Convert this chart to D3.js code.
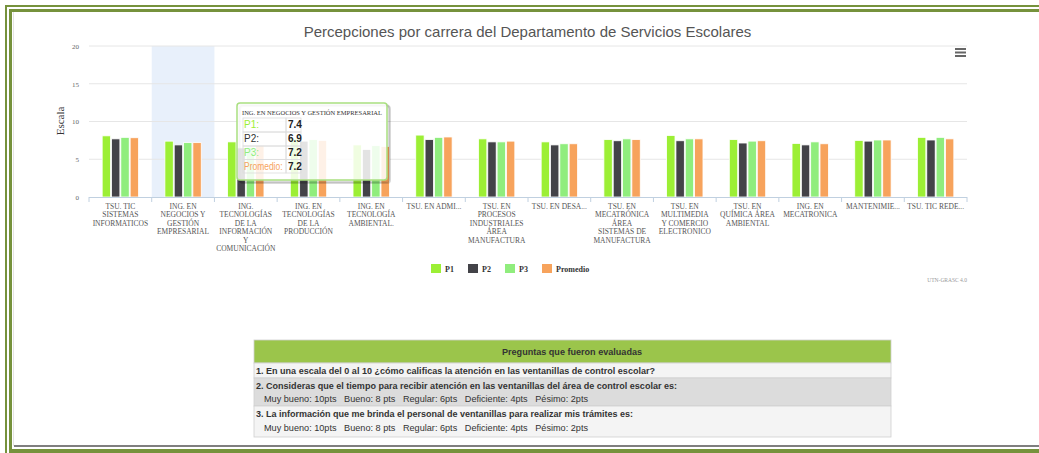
<!DOCTYPE html>
<html lang="es">
<head>
<meta charset="utf-8">
<title>Percepciones por carrera</title>
<script src="https://cdn.jsdelivr.net/npm/d3@7"></script>
<style>
body { margin: 0; background: #fff; }
svg { display: block; }
.ytick text { font: 7px "Liberation Serif", serif; fill: #666; }
.xlab { font: 7.5px "Liberation Serif", serif; fill: #555; }
.tabla text { font-family: "Liberation Sans", Arial, sans-serif; font-size: 9px; fill: #333; white-space: pre; }
</style>
</head>
<body>
<svg width="1039" height="453"></svg>
<script>
// categorias (lineas tal como se ven en el eje)
var carreras = [
  ["TSU. TIC", "SISTEMAS", "INFORMATICOS"],
  ["ING. EN", "NEGOCIOS Y", "GESTIÓN", "EMPRESARIAL"],
  ["ING.", "TECNOLOGÍAS", "DE LA", "INFORMACIÓN", "Y", "COMUNICACIÓN"],
  ["ING. EN", "TECNOLOGÍAS", "DE LA", "PRODUCCIÓN"],
  ["ING. EN", "TECNOLOGÍA", "AMBIENTAL."],
  ["TSU. EN ADMI..."],
  ["TSU. EN", "PROCESOS", "INDUSTRIALES", "ÁREA", "MANUFACTURA"],
  ["TSU. EN DESA..."],
  ["TSU. EN", "MECATRÓNICA", "ÁREA", "SISTEMAS DE", "MANUFACTURA"],
  ["TSU. EN", "MULTIMEDIA", "Y COMERCIO", "ELECTRONICO"],
  ["TSU. EN", "QUÍMICA ÁREA", "AMBIENTAL"],
  ["ING. EN", "MECATRONICA"],
  ["MANTENIMIE..."],
  ["TSU. TIC REDE..."]
];
var p1       = [8.1, 7.4, 7.3, 7.7, 6.9, 8.2, 7.7, 7.3, 7.6, 8.15, 7.6, 7.1, 7.5, 7.9];
var p2       = [7.7, 6.9, 6.5, 7.4, 6.3, 7.6, 7.3, 6.9, 7.45, 7.45, 7.15, 6.9, 7.4, 7.55];
var p3       = [7.9, 7.2, 6.6, 7.6, 6.8, 7.9, 7.3, 7.05, 7.7, 7.7, 7.4, 7.3, 7.55, 7.9];
var promedio = [7.85, 7.2, 6.8, 7.5, 6.7, 7.95, 7.4, 7.05, 7.6, 7.7, 7.45, 7.05, 7.55, 7.7];
var series = ["P1", "P2", "P3", "Promedio"];
var colores = ["#9cef35", "#434348", "#90ed7d", "#f7a35c"];
var yTicks = [0, 5, 10, 15, 20];
var titulo = "Percepciones por carrera del Departamento de Servicios Escolares";
var tooltipCarrera = 1;
var tooltipTitulo = "ING. EN NEGOCIOS Y GESTIÓN EMPRESARIAL";

var preguntasTitulo = "Preguntas que fueron evaluadas";
var preguntas = [
  "1. En una escala del 0 al 10 ¿cómo calificas la atención en las ventanillas de control escolar?",
  "2. Consideras que el tiempo para recibir atención en las ventanillas del área de control escolar es:",
  "3. La información que me brinda el personal de ventanillas para realizar mis trámites es:"
];
var opciones = "Muy bueno: 10pts   Bueno: 8 pts   Regular: 6pts   Deficiente: 4pts   Pésimo: 2pts";

var valores = [p1, p2, p3, promedio];
var svg = d3.select("svg");

// marco verde de la pagina
var verde = "#76923c";
svg.append("rect").attr("x", 5).attr("y", 5).attr("width", 1034).attr("height", 2).attr("fill", verde);
svg.append("rect").attr("x", 9).attr("y", 9).attr("width", 1030).attr("height", 3).attr("fill", verde);
svg.append("rect").attr("x", 5).attr("y", 5).attr("width", 2).attr("height", 448).attr("fill", verde);
svg.append("rect").attr("x", 9).attr("y", 9).attr("width", 3).attr("height", 444).attr("fill", verde);
svg.append("rect").attr("x", 9).attr("y", 449).attr("width", 1030).attr("height", 4).attr("fill", verde);
svg.append("line").attr("x1", 14).attr("x2", 1039).attr("y1", 446).attr("y2", 446)
    .attr("stroke", "#555").attr("stroke-width", 1.5);
svg.append("line").attr("x1", 13.5).attr("x2", 13.5).attr("y1", 12).attr("y2", 446)
    .attr("stroke", "#e4e4e4");

var x0 = d3.scaleBand().domain(d3.range(carreras.length)).range([89, 967]);
var bw = x0.bandwidth();
var x1 = d3.scaleBand().domain(series).range([bw * 0.21, bw * 0.79]).paddingInner(0.1);
var y = d3.scaleLinear().domain([0, 20]).range([197, 46]);

// titulo
svg.append("text").attr("x", 527.5).attr("y", 37).attr("text-anchor", "middle")
    .style("font", "15px 'Liberation Sans', Arial, sans-serif").attr("fill", "#555").text(titulo);

// menu
[49, 52.5, 56].forEach(function(v) {
  svg.append("line").attr("x1", 955).attr("x2", 966).attr("y1", v).attr("y2", v)
      .attr("stroke", "#666").attr("stroke-width", 2);
});

// banda de la categoria seleccionada
svg.append("rect").attr("x", x0(tooltipCarrera)).attr("y", y(20))
    .attr("width", bw).attr("height", y(0) - y(20)).attr("fill", "#e8f0fb");

// rejilla
svg.append("g").selectAll("line").data(yTicks.slice(1)).enter().append("line")
    .attr("x1", 89).attr("x2", 967)
    .attr("y1", function(d) { return y(d); }).attr("y2", function(d) { return y(d); })
    .attr("stroke", "#e6e6e6");

// eje y
var gy = svg.append("g").attr("class", "ytick").attr("transform", "translate(79,0)")
    .call(d3.axisLeft(y).tickValues(yTicks).tickSize(0).tickPadding(0));
gy.select(".domain").remove();
gy.selectAll("text").attr("dy", "0.35em");

svg.append("text").attr("transform", "translate(64,121) rotate(-90)").attr("text-anchor", "middle")
    .style("font", "11px 'Liberation Serif', serif").attr("fill", "#333").text("Escala");

// barras
var grupos = svg.append("g").selectAll("g").data(carreras).enter().append("g")
    .attr("transform", function(d, i) { return "translate(" + x0(i) + ",0)"; });
grupos.selectAll("rect").data(function(d, i) {
    return series.map(function(s, k) { return {s: s, k: k, v: valores[k][i]}; });
  }).enter().append("rect")
    .attr("x", function(d) { return x1(d.s); })
    .attr("width", x1.bandwidth())
    .attr("y", function(d) { return y(d.v); })
    .attr("height", function(d) { return y(0) - y(d.v); })
    .attr("fill", function(d) { return colores[d.k]; })
    .attr("stroke", "#fff").attr("stroke-width", 0.8);

// eje x
svg.append("line").attr("x1", 89).attr("x2", 967).attr("y1", 197.5).attr("y2", 197.5)
    .attr("stroke", "#c0d0e0");
svg.append("g").selectAll("line").data(d3.range(carreras.length + 1)).enter().append("line")
    .attr("x1", function(i) { return 89 + i * bw; }).attr("x2", function(i) { return 89 + i * bw; })
    .attr("y1", 197).attr("y2", 202).attr("stroke", "#c0d0e0");

var etiquetas = svg.append("g").selectAll("text").data(carreras).enter().append("text")
    .attr("class", "xlab").attr("text-anchor", "middle")
    .attr("x", function(d, i) { return x0(i) + bw / 2; }).attr("y", 209);
etiquetas.selectAll("tspan").data(function(d) { return d; }).enter().append("tspan")
    .attr("x", function() { return this.parentNode.getAttribute("x"); })
    .attr("dy", function(d, j) { return j ? 8.4 : 0; })
    .text(function(d) { return d; });

// leyenda
var leg = [431, 468, 505, 542];
series.forEach(function(s, k) {
  svg.append("rect").attr("x", leg[k]).attr("y", 264).attr("width", 10).attr("height", 9)
      .attr("fill", colores[k]);
  svg.append("text").attr("x", leg[k] + 14).attr("y", 271.5)
      .style("font", "bold 8px 'Liberation Serif', serif").attr("fill", "#333").text(s);
});
svg.append("text").attr("x", 967).attr("y", 282).attr("text-anchor", "end")
    .style("font", "5.5px 'Liberation Serif', serif").attr("fill", "#999").text("UTN-GRASC 4.0");

// tooltip
var tt = svg.append("g");
[3, 2, 1].forEach(function(o) {
  tt.append("rect").attr("x", 237 + o).attr("y", 103 + o).attr("width", 150).attr("height", 77)
      .attr("rx", 3).attr("fill", "none").attr("stroke", "#000").attr("stroke-opacity", 0.05 * o)
      .attr("stroke-width", 2);
});
tt.append("rect").attr("x", 237).attr("y", 103).attr("width", 150).attr("height", 77).attr("rx", 3)
    .attr("fill", "rgba(255,255,255,0.85)").attr("stroke", "#a9df80").attr("stroke-width", 1.5);
tt.append("text").attr("x", 242).attr("y", 114.5).attr("textLength", 140).attr("lengthAdjust", "spacingAndGlyphs")
    .style("font", "7px 'Liberation Serif', serif").attr("fill", "#333").text(tooltipTitulo);
var filas = [118, 132, 146, 159.5, 173];
series.forEach(function(s, k) {
  tt.append("rect").attr("x", 243).attr("y", filas[k]).attr("width", 43).attr("height", filas[k + 1] - filas[k])
      .attr("fill", "none").attr("stroke", "#ddd").attr("stroke-width", 0.8);
  tt.append("rect").attr("x", 286).attr("y", filas[k]).attr("width", 15).attr("height", filas[k + 1] - filas[k])
      .attr("fill", "none").attr("stroke", "#ddd").attr("stroke-width", 0.8);
  var lbl = tt.append("text").attr("x", 244).attr("y", filas[k] + 10)
      .style("font", "10px 'Liberation Sans', Arial, sans-serif")
      .attr("fill", k === 1 ? "#333" : colores[k]).text(s + ":");
  if (k === 3) lbl.attr("textLength", 38.5).attr("lengthAdjust", "spacingAndGlyphs");
  tt.append("text").attr("x", 288).attr("y", filas[k] + 10)
      .style("font", "bold 10px 'Liberation Sans', Arial, sans-serif").attr("fill", "#222")
      .text(d3.format(".1f")(valores[k][tooltipCarrera]));
});

// tabla de preguntas
var tabla = svg.append("g").attr("class", "tabla");
var filasT = [
  {y: 340, h: 23, fill: "#9bc54b"},
  {y: 363, h: 15, fill: "#f4f4f4"},
  {y: 378, h: 28, fill: "#dcdcdc"},
  {y: 406, h: 31, fill: "#f4f4f4"}
];
filasT.forEach(function(f) {
  tabla.append("rect").attr("x", 254).attr("y", f.y).attr("width", 637).attr("height", f.h)
      .attr("fill", f.fill).attr("stroke", "#cfcfcf").attr("stroke-width", 0.8);
});
tabla.append("text").attr("x", 572).attr("y", 355).attr("text-anchor", "middle")
    .attr("font-weight", "bold").attr("textLength", 140).attr("lengthAdjust", "spacingAndGlyphs")
    .text(preguntasTitulo);
var anchos = [399, 421, 377];
var ys = [373.5, 388.5, 416.5];
preguntas.forEach(function(p, k) {
  tabla.append("text").attr("x", 256).attr("y", ys[k]).attr("font-weight", "bold")
      .attr("textLength", anchos[k]).attr("lengthAdjust", "spacingAndGlyphs").text(p);
});
[402, 431].forEach(function(v) {
  tabla.append("text").attr("x", 264).attr("y", v).attr("fill", "#444")
      .attr("textLength", 324).attr("lengthAdjust", "spacingAndGlyphs").text(opciones);
});
</script>
</body>
</html>
